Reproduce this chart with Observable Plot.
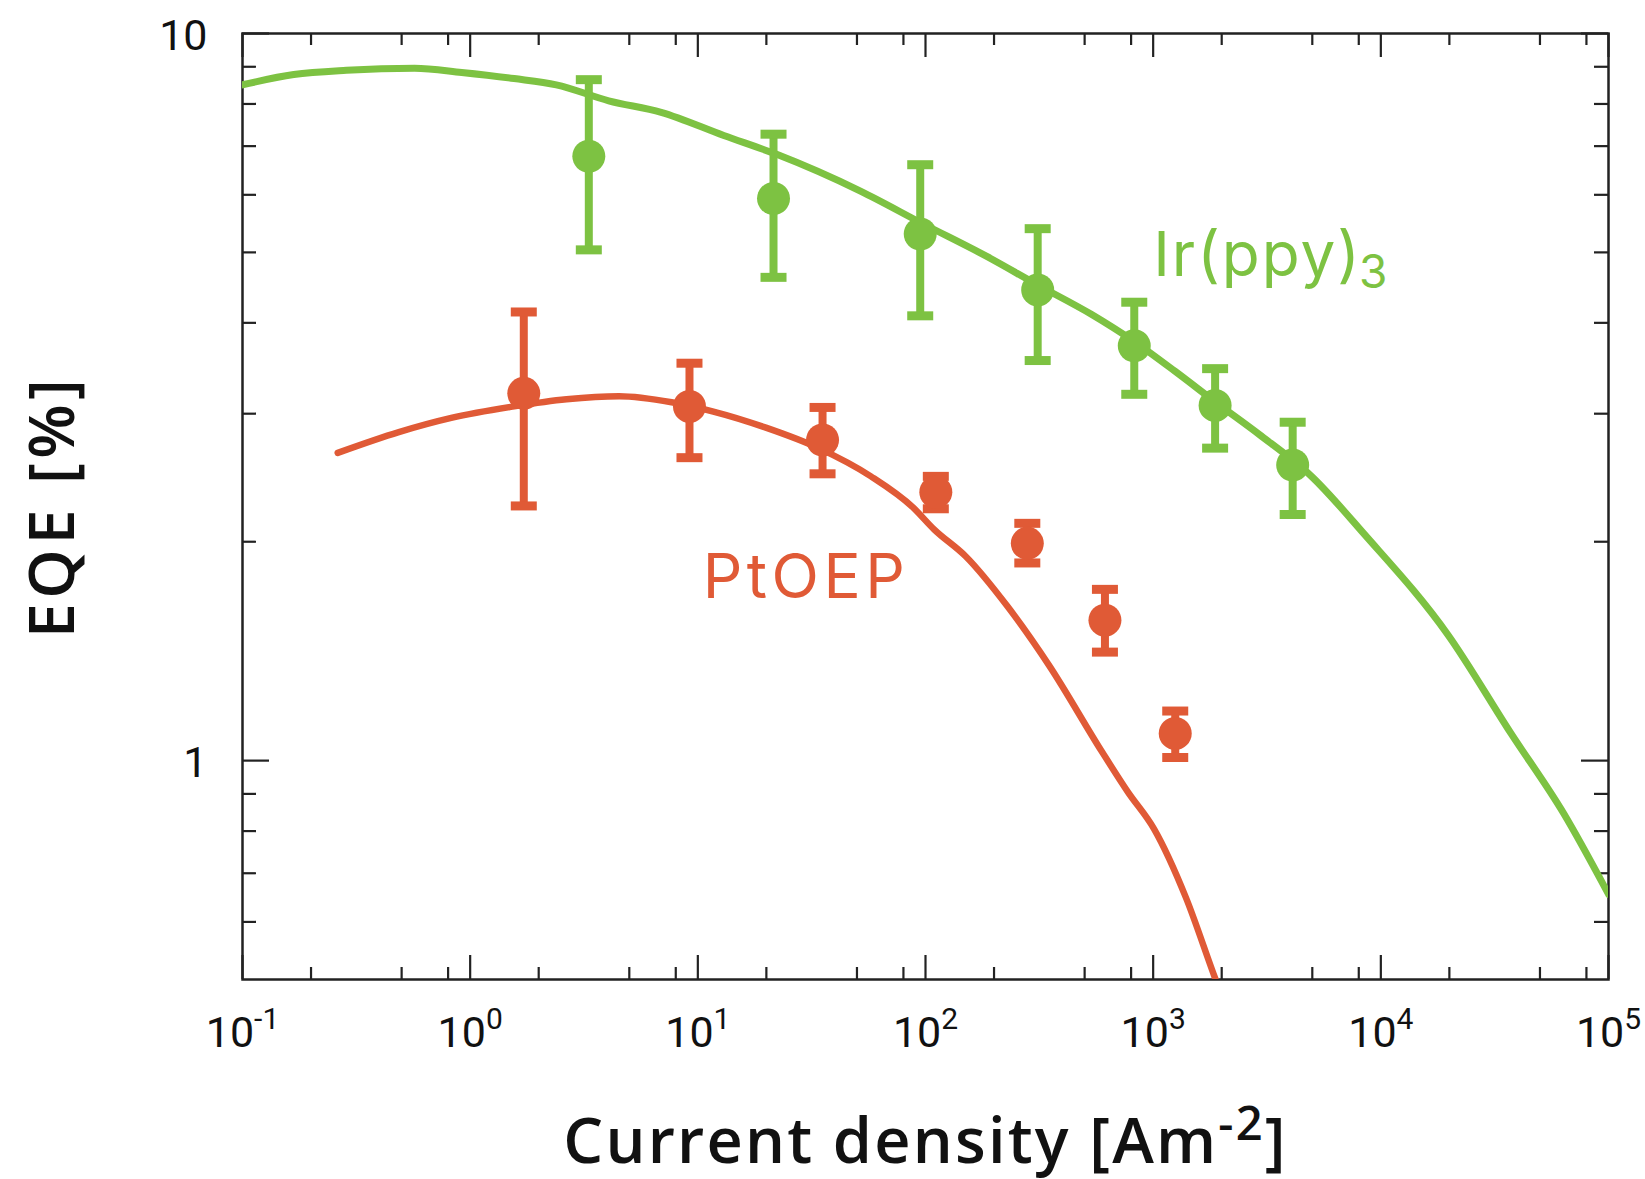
<!DOCTYPE html>
<html><head><meta charset="utf-8">
<script src="https://cdn.jsdelivr.net/npm/d3@7"></script>
<script src="https://cdn.jsdelivr.net/npm/@observablehq/plot@0.6"></script>
<style>body{margin:0;background:#fff}</style>
</head><body><div id="chart"></div>
<script>
// ---- data ----
const irPointX = [3.32, 21.5, 94.8, 311, 826, 1871, 4100];
const irPointY = [6.78, 5.93, 5.30, 4.44, 3.72, 3.08, 2.55];
const irErrLo  = [5.04, 4.62, 4.09, 3.55, 3.19, 2.69, 2.18];
const irErrHi  = [8.64, 7.27, 6.60, 5.39, 4.27, 3.46, 2.92];

const ptPointX = [1.72, 9.19, 35.3, 111, 280, 614, 1250];
const ptPointY = [3.20, 3.07, 2.76, 2.34, 1.99, 1.56, 1.09];
const ptErrLo  = [2.24, 2.61, 2.48, 2.22, 1.87, 1.41, 1.01];
const ptErrHi  = [4.14, 3.52, 3.06, 2.46, 2.12, 1.72, 1.17];

const irCurveX = [0.1, 0.168, 0.286, 0.570, 0.918, 1.56, 2.39, 4.06, 6.90, 13.0, 22.2, 51.8, 97.9, 185, 311, 535, 826, 1250, 1910, 2920, 4960, 8440, 19700, 37300, 63400, 100000];
const irCurveY = [8.50, 8.78, 8.90, 8.96, 8.84, 8.67, 8.50, 8.08, 7.79, 7.24, 6.82, 6.07, 5.47, 4.94, 4.51, 4.11, 3.77, 3.43, 3.10, 2.81, 2.46, 2.05, 1.49, 1.09, 0.847, 0.655];

const ptCurveX = [0.262, 0.486, 0.826, 1.56, 2.65, 4.51, 7.67, 11.7, 19.9, 33.9, 57.6, 88.1, 109, 150, 229, 350, 594, 775, 1010, 1390, 1880, 1950];
const ptCurveY = [2.65, 2.83, 2.96, 3.07, 3.14, 3.17, 3.11, 3.02, 2.87, 2.69, 2.46, 2.23, 2.08, 1.91, 1.63, 1.35, 1.03, 0.905, 0.805, 0.649, 0.50, 0.485];

const xTickValues = [0.1, 1, 10, 100, 1000, 10000, 100000];
const xTickLabels = ["10^{-1}", "10^{0}", "10^{1}", "10^{2}", "10^{3}", "10^{4}", "10^{5}"];
const xMinorFactors = [2, 5, 8];
const yTickValues = [1, 10];
const yTickLabels = ["1", "10"];
const yMinorValues = [0.6, 0.7, 0.8, 0.9, 2, 3, 4, 5, 6, 7, 8, 9];

const xTitle = "Current density [Am^{-2}]";
const yTitle = "EQE [%]";
const seriesLabels = [
  {name: "Ir(ppy)_{3}", x: 1000, y: 4.94, color: "#7DC242"},
  {name: "PtOEP", x: 10.5, y: 1.78, color: "#E05A36"}
];
const GREEN = "#7DC242", RED = "#E05A36";

// ---- build tables ----
const irPts = irPointX.map((x, i) => ({x, y: irPointY[i], lo: irErrLo[i], hi: irErrHi[i]}));
const ptPts = ptPointX.map((x, i) => ({x, y: ptPointY[i], lo: ptErrLo[i], hi: ptErrHi[i]}));
const irCurve = irCurveX.map((x, i) => ({x, y: irCurveY[i]}));
const ptCurve = ptCurveX.map((x, i) => ({x, y: ptCurveY[i]}));
const xMinor = xTickValues.slice(0, -1).flatMap(d => xMinorFactors.map(f => d * f));

const W = 1645, H = 1179, mL = 242, mR = 37, mT = 33, mB = 200;
const PH = H - mT - mB, PW = W - mL - mR;

const capSymbol = {draw(ctx) { ctx.rect(-13, -4.5, 26, 9); }};

function errorMarks(pts, color) {
  return [
    Plot.ruleX(pts, {x: "x", y1: "lo", y2: "hi", stroke: color, strokeWidth: 8}),
    Plot.dot(pts, {x: "x", y: "lo", symbol: capSymbol, fill: color, stroke: "none"}),
    Plot.dot(pts, {x: "x", y: "hi", symbol: capSymbol, fill: color, stroke: "none"}),
    Plot.dot(pts, {x: "x", y: "y", r: 16.5, fill: color, stroke: "none"})
  ];
}

const INK = "#111";
const chart = Plot.plot({
  width: W, height: H,
  marginLeft: mL, marginRight: mR, marginTop: mT, marginBottom: mB,
  style: {background: "white", fontFamily: "Roboto", fontSize: "43px", color: INK},
  x: {type: "log", domain: [0.1, 1e5], axis: null},
  y: {type: "log", domain: [0.5, 10], axis: null},
  marks: [
    Plot.tickX(xMinor, {x: d => d, insetTop: PH - 12, stroke: "#222", strokeWidth: 2.2}),
    Plot.tickX(xMinor, {x: d => d, insetBottom: PH - 12, stroke: "#222", strokeWidth: 2.2}),
    Plot.tickX(xTickValues, {x: d => d, insetTop: PH - 24, stroke: "#222", strokeWidth: 2.2}),
    Plot.tickX(xTickValues, {x: d => d, insetBottom: PH - 24, stroke: "#222", strokeWidth: 2.2}),
    Plot.tickY(yMinorValues, {y: d => d, insetRight: PW - 14, stroke: "#222", strokeWidth: 2.2}),
    Plot.tickY(yMinorValues, {y: d => d, insetLeft: PW - 14, stroke: "#222", strokeWidth: 2.2}),
    Plot.tickY(yTickValues, {y: d => d, insetRight: PW - 27, stroke: "#222", strokeWidth: 2.2}),
    Plot.tickY(yTickValues, {y: d => d, insetLeft: PW - 27, stroke: "#222", strokeWidth: 2.2}),
    Plot.frame({stroke: "#222", strokeWidth: 2.5}),
    Plot.line(irCurve, {x: "x", y: "y", stroke: GREEN, strokeWidth: 7, curve: "monotone-x", clip: true}),
    Plot.line(ptCurve, {x: "x", y: "y", stroke: RED, strokeWidth: 6.5, curve: "monotone-x", clip: true}),
    ...errorMarks(irPts, GREEN),
    ...errorMarks(ptPts, RED),
    Plot.text(xTickValues, {x: d => d, frameAnchor: "bottom", textAnchor: "middle", dy: 67, text: (d, i) => xTickLabels[i],
      fontFamily: "Roboto", fontSize: 43, fill: INK}),
    Plot.text(yTickValues, {y: d => d, frameAnchor: "left", dx: -35, dy: 3, textAnchor: "end", text: (d, i) => yTickLabels[i],
      fontFamily: "Roboto", fontSize: 43, fill: INK}),
    Plot.text([xTitle], {frameAnchor: "bottom", textAnchor: "middle", dy: 183, text: d => d,
      fontFamily: "Open Sans", fontWeight: 600, fontSize: 63, fill: INK}),
    Plot.text([yTitle], {frameAnchor: "left", textAnchor: "middle", dx: -189, rotate: -90, text: d => d,
      fontFamily: "Open Sans", fontWeight: 600, fontSize: 63, fill: INK}),
    Plot.text(seriesLabels, {x: "x", y: "y", text: "name", fill: "color", textAnchor: "start",
      fontFamily: "Inter", fontSize: 62, fontWeight: 400})
  ]
});

document.getElementById("chart").appendChild(chart);

// turn ^{..} and _{..} markup into tspans
function markup(el, o) {
  const s = el.textContent;
  const parts = s.split(/(\^\{[^}]*\}|_\{[^}]*\})/).filter(p => p.length);
  el.textContent = "";
  let shift = 0;
  for (const p of parts) {
    const ts = document.createElementNS("http://www.w3.org/2000/svg", "tspan");
    if (p.startsWith("^{")) {
      ts.textContent = p.slice(2, -1);
      ts.setAttribute("font-size", o.supSize);
      ts.setAttribute("dy", -o.rise - shift); shift = -o.rise;
    } else if (p.startsWith("_{")) {
      ts.textContent = p.slice(2, -1);
      ts.setAttribute("font-size", o.subSize);
      ts.setAttribute("dy", o.drop - shift); shift = o.drop;
      if (o.subDx) ts.setAttribute("dx", o.subDx);
    } else {
      ts.textContent = p;
      if (shift) ts.setAttribute("dy", -shift);
      shift = 0;
    }
    el.appendChild(ts);
  }
}
const texts = Array.from(chart.querySelectorAll("text"));
for (const el of texts) {
  const s = el.textContent;
  if (s.startsWith("10^{")) markup(el, {supSize: 30, rise: 18});
  else if (s === xTitle) { markup(el, {supSize: 47, rise: 23}); el.setAttribute("letter-spacing", 2.2); }
  else if (s === yTitle) { el.setAttribute("letter-spacing", 4.5); }
  else if (s.startsWith("Ir(")) { markup(el, {subSize: 46, drop: 12, subDx: -3}); el.setAttribute("letter-spacing", 2); }
  else if (s === "PtOEP") { el.setAttribute("letter-spacing", 4.5); }
}
</script>
</body></html>
